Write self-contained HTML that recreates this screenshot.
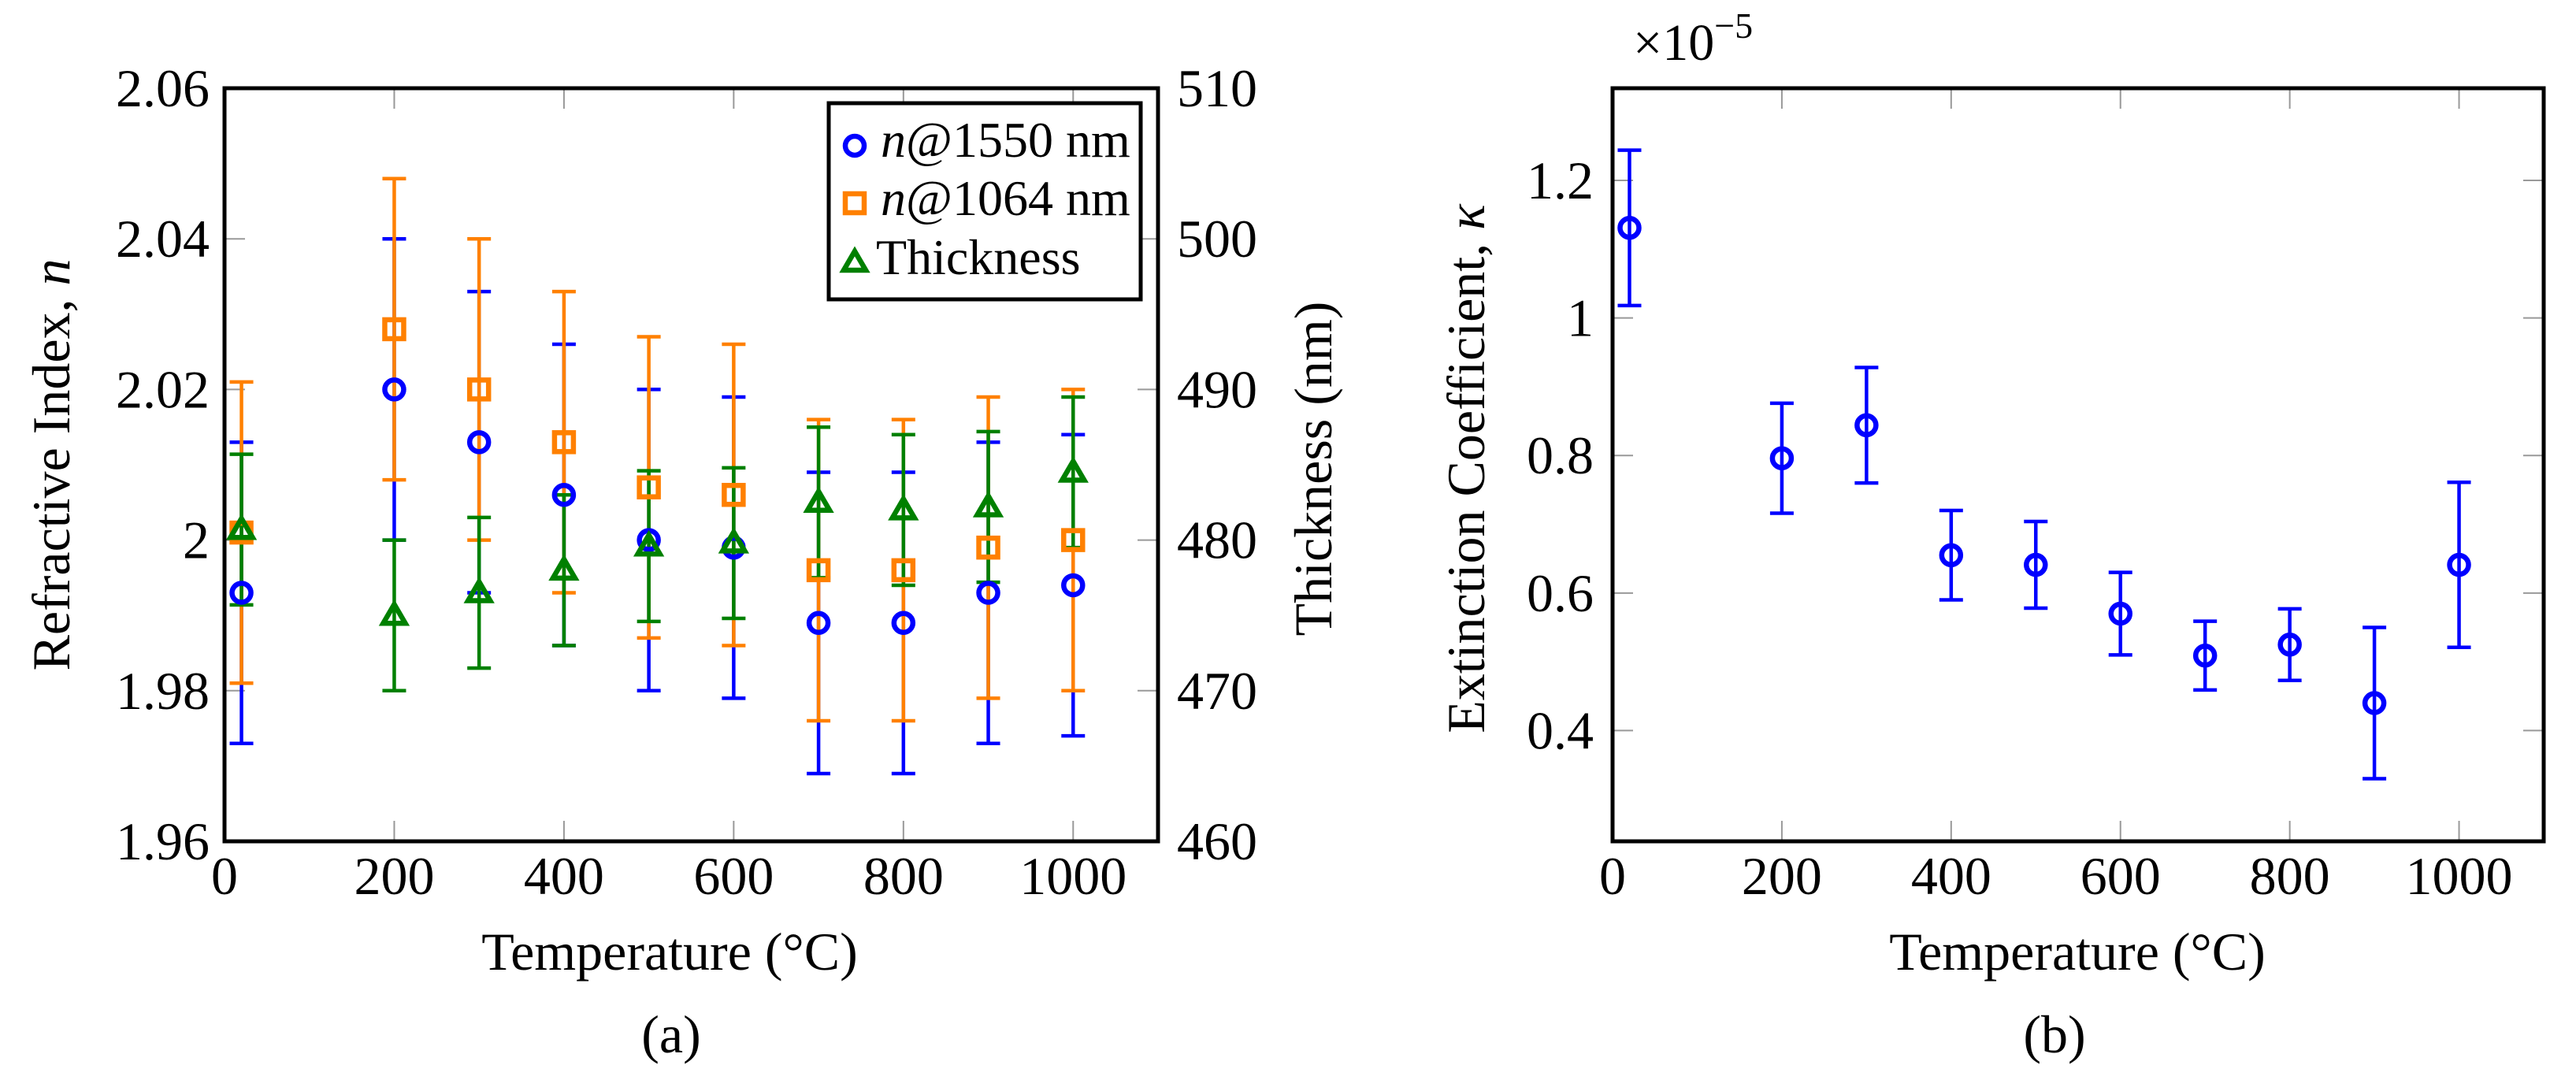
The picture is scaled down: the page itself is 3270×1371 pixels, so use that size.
<!DOCTYPE html>
<html><head><meta charset="utf-8"><style>
body{margin:0;background:#fff}
svg{display:block}
text{font-family:"Liberation Serif","DejaVu Serif",serif;fill:#000}
</style></head><body>
<svg id="s" width="3270" height="1371" viewBox="0 0 3270 1371" xmlns="http://www.w3.org/2000/svg" font-family="Liberation Serif, DejaVu Serif, serif">
<g id="ga"></g>
<g id="gb"></g>
</svg>
<script>
const temps=[20,200,300,400,500,600,700,800,900,1000];
const n1550=[1.993,2.020,2.013,2.006,2.000,1.999,1.989,1.989,1.993,1.994];
const n1550Err=[0.02,0.02,0.02,0.02,0.02,0.02,0.02,0.02,0.02,0.02];
const n1064=[2.001,2.028,2.020,2.013,2.007,2.006,1.996,1.996,1.999,2.000];
const n1064Err=[0.02,0.02,0.02,0.02,0.02,0.02,0.02,0.02,0.02,0.02];
const thick=[480.7,475,476.5,478,479.6,479.8,482.5,482,482.2,484.5];
const thickErr=[5,5,5,5,5,5,5,5,5,5];
const kappa=[1.131,0.796,0.844,0.655,0.641,0.570,0.509,0.525,0.440,0.641];
const kappaErr=[0.113,0.08,0.084,0.065,0.063,0.06,0.05,0.052,0.11,0.12];
const xTicks=[0,200,400,600,800,1000];
const yTicksA=[1.96,1.98,2.00,2.02,2.04,2.06];
const yTickLabelsA=["1.96","1.98","2","2.02","2.04","2.06"];
const yTicksR=[460,470,480,490,500,510];
const yTicksB=[0.4,0.6,0.8,1.0,1.2];
const yTickLabelsB=["0.4","0.6","0.8","1","1.2"];

const NS="http://www.w3.org/2000/svg";
const FF="Liberation Serif, DejaVu Serif, serif";
function mk(p,tag,at,txt){const e=document.createElementNS(NS,tag);for(const k in at)e.setAttribute(k,at[k]);if(tag==='text')e.setAttribute('font-family',FF);if(txt!==undefined)e.textContent=txt;p.appendChild(e);return e;}
const BLUE="#0000ff",ORANGE="#ff8000",GREEN="#008000";
const FS=68;

function axes(L,R,T,B,xmin,xmax,ymin,ymax){
  return {x:v=>L+(v-xmin)/(xmax-xmin)*(R-L),y:v=>B-(v-ymin)/(ymax-ymin)*(B-T)};
}
function errbar(g,x,y1,y2,col,name){
  const e=mk(g,'path',{d:`M${x},${y1}V${y2}M${x-15},${y1}H${x+15}M${x-15},${y2}H${x+15}`,stroke:col,'stroke-width':4.5,fill:'none'});
  
  
}
function circ(g,x,y,name){const e=mk(g,'circle',{cx:x,cy:y,r:12,fill:'none',stroke:BLUE,'stroke-width':6.5});}
function sq(g,x,y,name){const e=mk(g,'rect',{x:x-12,y:y-12,width:24,height:24,fill:'none',stroke:ORANGE,'stroke-width':6.5});}
function tri(g,x,y,name){const e=mk(g,'path',{d:`M${x},${y-14}L${x+14},${y+10}L${x-14},${y+10}Z`,fill:'none',stroke:GREEN,'stroke-width':6.5});}

// Panel A
(function(){
  const g=document.getElementById('ga');
  const L=285,R=1470,T=112,B=1068;
  const a=axes(L,R,T,B,0,1100,1.96,2.06);
  const yr=v=>B-(v-460)/50*(B-T);
  xTicks.forEach(v=>{const x=a.x(v);
    mk(g,'path',{d:`M${x},${B}v-26M${x},${T}v26`,stroke:'#999','stroke-width':2});
    const t=mk(g,'text',{x:x,y:1135,'font-size':FS,'text-anchor':'middle'},String(v));
    });
  yTicksA.forEach((v,i)=>{const y=a.y(v);
    mk(g,'path',{d:`M${L},${y}h26`,stroke:'#999','stroke-width':2});
    const t=mk(g,'text',{x:266,y:y+23,'font-size':FS,'text-anchor':'end'},yTickLabelsA[i]);
    });
  yTicksR.forEach(v=>{const y=yr(v);
    mk(g,'path',{d:`M${R},${y}h-26`,stroke:'#999','stroke-width':2});
    const t=mk(g,'text',{x:1494,y:y+23,'font-size':FS},String(v));
    });
  temps.forEach((t,i)=>{const x=a.x(t);
    errbar(g,x,a.y(n1550[i]+n1550Err[i]),a.y(n1550[i]-n1550Err[i]),BLUE,'error-bar-n1550');});
  temps.forEach((t,i)=>{const x=a.x(t);
    errbar(g,x,a.y(n1064[i]+n1064Err[i]),a.y(n1064[i]-n1064Err[i]),ORANGE,'error-bar-n1064');});
  temps.forEach((t,i)=>{const x=a.x(t);
    errbar(g,x,yr(thick[i]+thickErr[i]),yr(thick[i]-thickErr[i]),GREEN,'error-bar-thickness');});
  temps.forEach((t,i)=>circ(g,a.x(t),a.y(n1550[i]),'point-n1550'));
  temps.forEach((t,i)=>sq(g,a.x(t),a.y(n1064[i]),'point-n1064'));
  temps.forEach((t,i)=>tri(g,a.x(t),yr(thick[i]),'point-thickness'));
  mk(g,'rect',{x:L,y:T,width:R-L,height:B-T,fill:'none',stroke:'#000','stroke-width':5});
  const lg=mk(g,'g',{});
  mk(lg,'rect',{x:1052,y:131,width:396,height:249,fill:'#fff',stroke:'#000','stroke-width':5});
  circ(lg,1085,185,'legend-marker-n1550');
  sq(lg,1085,258,'legend-marker-n1064');
  tri(lg,1085,333,'legend-marker-thickness');
  mk(lg,'text',{x:1118,y:199,'font-size':64,}).innerHTML='<tspan font-style="italic">n</tspan>@1550 nm';
  mk(lg,'text',{x:1118,y:273,'font-size':64,}).innerHTML='<tspan font-style="italic">n</tspan>@1064 nm';
  mk(lg,'text',{x:1112,y:348,'font-size':64,},'Thickness');
  mk(g,'text',{x:850,y:1231,'font-size':FS,'text-anchor':'middle',},'Temperature (°C)');
  mk(g,'text',{x:852,y:1336,'font-size':FS,'text-anchor':'middle',},'(a)');
  mk(g,'text',{x:0,y:0,'font-size':FS,'text-anchor':'middle',transform:'translate(88,590) rotate(-90)',}).innerHTML='Refractive Index, <tspan font-style="italic">n</tspan>';
  mk(g,'text',{x:0,y:0,'font-size':FS,'text-anchor':'middle',transform:'translate(1690,595) rotate(-90)',},'Thickness (nm)');
})();

// Panel B
(function(){
  const g=document.getElementById('gb');
  const L=2047,R=3229,T=112,B=1068;
  const a=axes(L,R,T,B,0,1100,0.239,1.334);
  xTicks.forEach(v=>{const x=a.x(v);
    mk(g,'path',{d:`M${x},${B}v-26M${x},${T}v26`,stroke:'#999','stroke-width':2});
    const t=mk(g,'text',{x:x,y:1135,'font-size':FS,'text-anchor':'middle'},String(v));
    });
  yTicksB.forEach((v,i)=>{const y=a.y(v);
    mk(g,'path',{d:`M${L},${y}h26M${R},${y}h-26`,stroke:'#999','stroke-width':2});
    const t=mk(g,'text',{x:2023,y:y+23,'font-size':FS,'text-anchor':'end'},yTickLabelsB[i]);
    });
  temps.forEach((t,i)=>{const x=a.x(t);
    errbar(g,x,a.y(kappa[i]+kappaErr[i]),a.y(kappa[i]-kappaErr[i]),BLUE,'error-bar-kappa');});
  temps.forEach((t,i)=>circ(g,a.x(t),a.y(kappa[i]),'point-kappa'));
  mk(g,'rect',{x:L,y:T,width:R-L,height:B-T,fill:'none',stroke:'#000','stroke-width':5});
  mk(g,'text',{x:2073,y:76,'font-size':66,}).innerHTML='×10<tspan font-size="46" dy="-28">−5</tspan>';
  mk(g,'text',{x:2637,y:1231,'font-size':FS,'text-anchor':'middle',},'Temperature (°C)');
  mk(g,'text',{x:2608,y:1336,'font-size':FS,'text-anchor':'middle',},'(b)');
  mk(g,'text',{x:0,y:0,'font-size':FS,'text-anchor':'middle',transform:'translate(1884,595) rotate(-90)',}).innerHTML='Extinction Coefficient, <tspan font-style="italic">κ</tspan>';
})();
</script>
</body></html>
